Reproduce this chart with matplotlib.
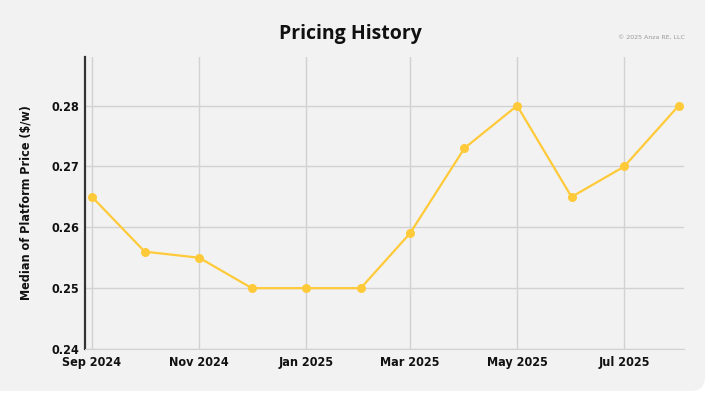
import datetime as dt
import matplotlib
matplotlib.use("Agg")
import matplotlib.pyplot as plt
import matplotlib.dates as mdates
from matplotlib.patches import FancyBboxPatch

# data
months = ["2024-09", "2024-10", "2024-11", "2024-12", "2025-01", "2025-02",
          "2025-03", "2025-04", "2025-05", "2025-06", "2025-07", "2025-08"]
prices = [0.265, 0.256, 0.255, 0.250, 0.250, 0.250,
          0.259, 0.273, 0.280, 0.265, 0.270, 0.280]
yticks = [0.24, 0.25, 0.26, 0.27, 0.28]

dates = [dt.datetime.strptime(m, "%Y-%m") for m in months]

fig = plt.figure(figsize=(7.09, 3.95), dpi=100)
fig.patch.set_facecolor("white")
# light grey card in pixel space, only its bottom-right corner shows the rounding
card = FancyBboxPatch((-30, 4), 735, 430,
                      boxstyle="round,pad=0,rounding_size=14",
                      transform=None, facecolor="#f2f2f2",
                      edgecolor="none", zorder=-10)
fig.patches.append(card)

ax = fig.add_axes([0.1199, 0.1165, 0.8448, 0.7392], zorder=1)
ax.set_facecolor("none")

ax.plot(dates, prices, color="#ffca3a", lw=1.6, marker="o", ms=6.5,
        markeredgewidth=0, zorder=3)

ax.set_ylim(0.24, 0.288)
ax.set_yticks(yticks)
ax.set_xlim(dt.datetime(2024, 8, 28), dt.datetime(2025, 8, 4))
ax.xaxis.set_major_locator(mdates.MonthLocator(bymonth=[1, 3, 5, 7, 9, 11]))
ax.xaxis.set_major_formatter(mdates.DateFormatter("%b %Y"))

ax.grid(True, color="#d2d2d2", lw=1)
ax.set_axisbelow(True)
for s in ["top", "right"]:
    ax.spines[s].set_visible(False)
ax.spines["bottom"].set_color("#d2d2d2")
ax.spines["left"].set_color("#333333")
ax.spines["left"].set_linewidth(1.6)
ax.tick_params(length=0)
ax.tick_params(axis="y", pad=4)
ax.tick_params(axis="x", pad=5)

for lab in ax.get_xticklabels() + ax.get_yticklabels():
    lab.set_family("DejaVu Sans")
    lab.set_fontstretch("condensed")
    lab.set_fontweight("bold")
    lab.set_fontsize(9)
    lab.set_color("#111111")

ax.set_ylabel("Median of Platform Price ($/w)", family="DejaVu Sans",
              fontstretch="condensed", fontweight="bold",
              fontsize=9, color="#111111", labelpad=14)

fig.text(0.494, 0.915, "Pricing History", ha="center", va="center",
         family=["Open Sans", "DejaVu Sans"], fontweight="bold", fontsize=14,
         color="#111111")
fig.text(0.966, 0.906, "\u00a9 2025 Anza RE, LLC", ha="right", va="center",
         fontsize=4.5, color="#999999")

fig.savefig("out.png", dpi=100, facecolor=fig.get_facecolor())
